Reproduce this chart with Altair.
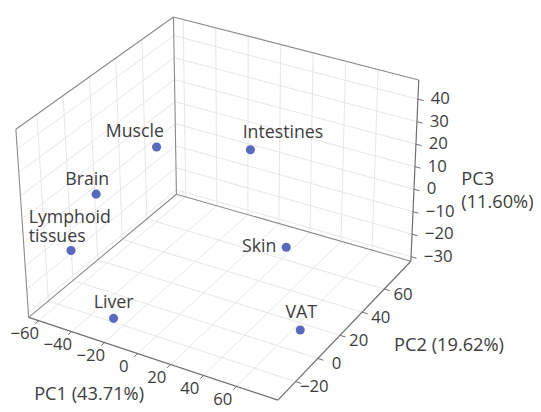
import altair as alt
import pandas as pd

# ---------------- data ----------------
tissues = ["Muscle", "Intestines", "Brain", "Lymphoid\ntissues", "Skin", "Liver", "VAT"]
pc1 = [-30, 9, -49, -47, 40, -23, 70]
pc2 = [24, 48, 0, -24, 36, -24, 6]
pc3 = [23.5, 19.6, 9.3, -4.2, -11.2, -27.8, -26.1]

pc1_ticks = [-60, -40, -20, 0, 20, 40, 60]
pc2_ticks = [-20, 0, 20, 40, 60]
pc3_ticks = [-30, -20, -10, 0, 10, 20, 30, 40]

axis_titles = ["PC1 (43.71%)", "PC2 (19.62%)", "PC3\n(11.60%)"]

# axis limits of the 3-D box
LIM1 = (-66, 85)
LIM2 = (-36, 84)
LIM3 = (-32, 48.5)

# ---------------- projection frame (layout) ----------------
CORNER_L = (29, 319)   # (min1, min2) on floor
CORNER_F = (282, 403)  # (max1, min2)
CORNER_R = (417, 262)  # (max1, max2)
CORNER_B = (179, 194)  # (min1, max2)
UP_L = (-13, -191)
UP_F = (-2, -195)
UP_B = (-3, -180)

FONT = "Open Sans"
TXT = "#3d3d3d"
DOT = "#5a69be"

W, H = 533, 404
XS = alt.Scale(domain=[8, 8 + W], range=[0, W], nice=False, zero=False)
YS = alt.Scale(domain=[8, 8 + H], range=[0, H], nice=False, zero=False)


def project(ch, a, b, c, xo, yo, tag):
    ch = ch.transform_calculate(**{f"u1{tag}": f"(datum.{a} - ({LIM1[0]})) / {LIM1[1] - LIM1[0]}"})
    ch = ch.transform_calculate(**{f"u2{tag}": f"(datum.{b} - ({LIM2[0]})) / {LIM2[1] - LIM2[0]}"})
    ch = ch.transform_calculate(**{f"u3{tag}": f"(datum.{c} - ({LIM3[0]})) / {LIM3[1] - LIM3[0]}"})
    u1, u2, u3 = f"datum.u1{tag}", f"datum.u2{tag}", f"datum.u3{tag}"

    def comp(i):
        L, F, B, R = CORNER_L[i], CORNER_F[i], CORNER_B[i], CORNER_R[i]
        vl, vf, vb = UP_L[i], UP_F[i], UP_B[i]
        return (f"{L} + {u1}*({F - L}) + {u2}*({B - L}) + {u1}*{u2}*({R - F - B + L})"
                f" + {u3}*(({vl}) + {u1}*({vf - vl}) + {u2}*({vb - vl}))")

    ch = ch.transform_calculate(**{xo: comp(0)})
    ch = ch.transform_calculate(**{yo: comp(1)})
    return ch


# ---------------- box, grid and tick segments ----------------
lo1, hi1 = LIM1
lo2, hi2 = LIM2
lo3, hi3 = LIM3
rows = []


def seg(p, q, kind):
    rows.append(dict(a1=p[0], b1=p[1], c1=p[2], a2=q[0], b2=q[1], c2=q[2], kind=kind))


for t in pc1_ticks:
    seg((t, lo2, lo3), (t, hi2, lo3), "grid")
    seg((t, hi2, lo3), (t, hi2, hi3), "grid")
    seg((t, lo2, lo3), (t, lo2 - 3, lo3), "tick")
for t in pc2_ticks:
    seg((lo1, t, lo3), (hi1, t, lo3), "grid")
    seg((lo1, t, lo3), (lo1, t, hi3), "grid")
    seg((hi1, t, lo3), (hi1 + 3.5, t, lo3), "tick")
for t in pc3_ticks:
    seg((lo1, lo2, t), (lo1, hi2, t), "grid")
    seg((lo1, hi2, t), (hi1, hi2, t), "grid")
    seg((hi1, hi2, t), (hi1 + 3.5, hi2, t), "tick")

# pane edges
seg((lo1, lo2, lo3), (lo1, hi2, lo3), "edge")
seg((lo1, hi2, lo3), (hi1, hi2, lo3), "edge")
seg((lo1, lo2, lo3), (lo1, lo2, hi3), "edge")
seg((lo1, lo2, hi3), (lo1, hi2, hi3), "edge")
seg((lo1, hi2, lo3), (lo1, hi2, hi3), "edge")
seg((lo1, hi2, hi3), (hi1, hi2, hi3), "edge")
# axis lines
seg((lo1, lo2, lo3), (hi1, lo2, lo3), "axis")
seg((hi1, lo2, lo3), (hi1, hi2, lo3), "axis")
seg((hi1, hi2, lo3), (hi1, hi2, hi3), "axis")

segs = pd.DataFrame(rows)


def seg_layer(kind, color, width):
    base = alt.Chart(segs).transform_filter(alt.datum.kind == kind)
    base = project(base, "a1", "b1", "c1", "x1", "y1", "s")
    base = project(base, "a2", "b2", "c2", "x2", "y2", "e")
    return base.mark_rule(color=color, strokeWidth=width).encode(
        x=alt.X("x1:Q", scale=XS, axis=None),
        y=alt.Y("y1:Q", scale=YS, axis=None),
        x2="x2:Q",
        y2="y2:Q",
    )


layers = [
    seg_layer("grid", "#e3e3e3", 0.9),
    seg_layer("edge", "#8a8a8a", 1.1),
    seg_layer("axis", "#6e6e6e", 1.2),
    seg_layer("tick", "#6e6e6e", 1.0),
]

# ---------------- tick labels ----------------
tl = pd.DataFrame(
    [dict(a=t, b=lo2, c=lo3, v=t, ax="pc1") for t in pc1_ticks]
    + [dict(a=hi1, b=t, c=lo3, v=t, ax="pc2") for t in pc2_ticks]
    + [dict(a=hi1, b=hi2, c=t, v=t, ax="pc3") for t in pc3_ticks]
)
tick_style = {
    "pc1": dict(align="center", dx=-14, dy=14),
    "pc2": dict(align="center", dx=19, dy=6),
    "pc3": dict(align="left", dx=13, dy=0),
}
for ax, st in tick_style.items():
    base = project(alt.Chart(tl).transform_filter(alt.datum.ax == ax), "a", "b", "c", "px", "py", "t")
    layers.append(
        base.mark_text(font=FONT, fontSize=17, color=TXT, baseline="middle", **st).encode(
            x=alt.X("px:Q", scale=XS, axis=None),
            y=alt.Y("py:Q", scale=YS, axis=None),
            text=alt.Text("v:Q", format="d"),
        )
    )

# ---------------- axis titles ----------------
titles = pd.DataFrame(dict(
    name=axis_titles,
    a=[-30, hi1, hi1],
    b=[lo2, 20, hi2],
    c=[lo3, lo3, 0],
))
title_style = [
    dict(align="center", dx=1, dy=58),
    dict(align="left", dx=55, dy=10),
    dict(align="left", dx=48, dy=-10),
]
for name, st in zip(axis_titles, title_style):
    base = project(alt.Chart(titles).transform_filter(alt.datum.name == name), "a", "b", "c", "px", "py", "h")
    layers.append(
        base.mark_text(font=FONT, fontSize=18.5, color=TXT, baseline="middle", lineBreak="\n",
                       lineHeight=23, **st).encode(
            x=alt.X("px:Q", scale=XS, axis=None),
            y=alt.Y("py:Q", scale=YS, axis=None),
            text="name:N",
        )
    )

# ---------------- points ----------------
pts = pd.DataFrame(dict(name=tissues, a=pc1, b=pc2, c=pc3))
pbase = project(alt.Chart(pts), "a", "b", "c", "px", "py", "p")
layers.append(
    pbase.mark_circle(size=85, color=DOT, opacity=1).encode(
        x=alt.X("px:Q", scale=XS, axis=None),
        y=alt.Y("py:Q", scale=YS, axis=None),
    )
)

label_style = {
    "Muscle": dict(align="center", dx=-22, dy=-15),
    "Intestines": dict(align="center", dx=33, dy=-17),
    "Brain": dict(align="center", dx=-9, dy=-14),
    "Lymphoid\ntissues": dict(align="left", dx=-43, dy=-33),
    "Skin": dict(align="right", dx=-10, dy=0),
    "Liver": dict(align="center", dx=0, dy=-16),
    "VAT": dict(align="center", dx=1, dy=-17),
}
for name, st in label_style.items():
    base = project(alt.Chart(pts).transform_filter(alt.datum.name == name), "a", "b", "c", "px", "py", "q")
    layers.append(
        base.mark_text(font=FONT, fontSize=18, color=TXT, baseline="middle", lineBreak="\n",
                       lineHeight=19, **st).encode(
            x=alt.X("px:Q", scale=XS, axis=None),
            y=alt.Y("py:Q", scale=YS, axis=None),
            text="name:N",
        )
    )

chart = (
    alt.layer(*layers)
    .properties(width=W, height=H, padding=0, autosize=alt.AutoSizeParams(type="none"), background="white")
    .configure_view(stroke=None)
)

chart.save("out.html", embed_options={"renderer": "svg", "actions": False})
